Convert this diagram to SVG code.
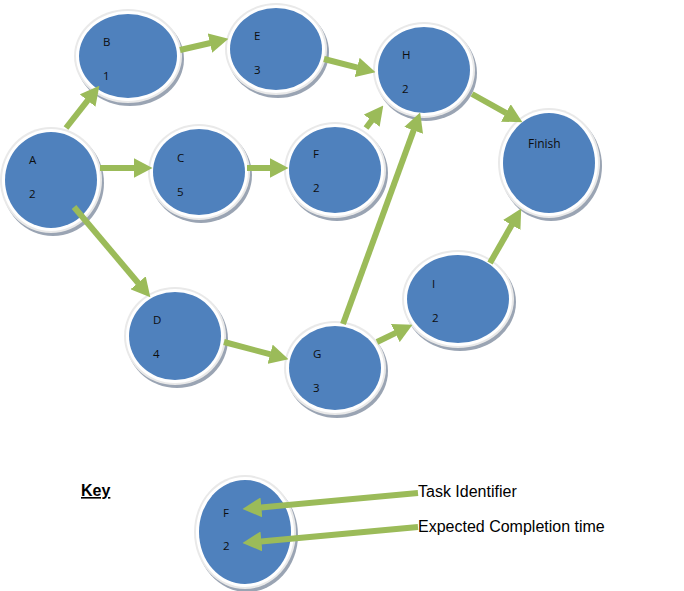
<svg xmlns="http://www.w3.org/2000/svg" width="684" height="591" viewBox="0 0 684 591">
<defs>
<marker id="ah" markerUnits="userSpaceOnUse" markerWidth="19" markerHeight="20" viewBox="0 0 19 20" refX="0.5" refY="10" orient="auto">
<path d="M0,0 L19,10 L0,20 z" fill="#9BBB59"/>
</marker>
</defs>
<style>
.sh{fill:#9aa4b3}
.rg{fill:#e9e9e9}
.wh{fill:#ffffff}
.bl{fill:#4F81BD}
.t{font-family:"Open Sans","Liberation Sans",sans-serif;font-size:11.5px;fill:#0d0d0d}
.k{font-family:"Liberation Sans",Arial,sans-serif;font-size:16px;fill:#000}
.c{stroke:#9BBB59;stroke-width:6;fill:none;marker-end:url(#ah)}
</style>
<rect width="684" height="591" fill="#fff"/>
<g id="node-B">
<ellipse class="sh" cx="130" cy="59" rx="54" ry="47"/><ellipse class="rg" cx="128" cy="56" rx="54" ry="47"/><ellipse class="wh" cx="128" cy="56" rx="52" ry="45"/><ellipse class="bl" cx="128" cy="56" rx="49" ry="42"/>
<text class="t" x="103" y="46">B</text><text class="t" x="103" y="80">1</text>
</g>
<g id="node-E">
<ellipse class="sh" cx="278" cy="52" rx="51" ry="46"/><ellipse class="rg" cx="276" cy="49" rx="51" ry="46"/><ellipse class="wh" cx="276" cy="49" rx="49" ry="44"/><ellipse class="bl" cx="276" cy="49" rx="46" ry="41"/>
<text class="t" x="254" y="40">E</text><text class="t" x="254" y="74">3</text>
</g>
<g id="node-A">
<ellipse class="sh" cx="53" cy="183" rx="51" ry="53"/><ellipse class="rg" cx="51" cy="180" rx="51" ry="53"/><ellipse class="wh" cx="51" cy="180" rx="49" ry="51"/><ellipse class="bl" cx="51" cy="180" rx="46" ry="48"/>
<text class="t" x="29" y="164">A</text><text class="t" x="29" y="198">2</text>
</g>
<g id="node-C">
<ellipse class="sh" cx="201" cy="175" rx="51" ry="48"/><ellipse class="rg" cx="199" cy="172" rx="51" ry="48"/><ellipse class="wh" cx="199" cy="172" rx="49" ry="46"/><ellipse class="bl" cx="199" cy="172" rx="46" ry="43"/>
<text class="t" x="177" y="162">C</text><text class="t" x="177" y="196">5</text>
</g>
<g id="node-F">
<ellipse class="sh" cx="337" cy="173" rx="51" ry="48"/><ellipse class="rg" cx="335" cy="170" rx="51" ry="48"/><ellipse class="wh" cx="335" cy="170" rx="49" ry="46"/><ellipse class="bl" cx="335" cy="170" rx="46" ry="43"/>
<text class="t" x="313" y="158">F</text><text class="t" x="313" y="192">2</text>
</g>
<g id="node-H">
<ellipse class="sh" cx="426" cy="73" rx="51" ry="48"/><ellipse class="rg" cx="424" cy="70" rx="51" ry="48"/><ellipse class="wh" cx="424" cy="70" rx="49" ry="46"/><ellipse class="bl" cx="424" cy="70" rx="46" ry="43"/>
<text class="t" x="402" y="59">H</text><text class="t" x="402" y="93">2</text>
</g>
<g id="node-Finish">
<ellipse class="sh" cx="551" cy="166" rx="51" ry="55"/><ellipse class="rg" cx="549" cy="163" rx="51" ry="55"/><ellipse class="wh" cx="549" cy="163" rx="49" ry="53"/><ellipse class="bl" cx="549" cy="163" rx="46" ry="50"/>
<text class="t" x="528" y="148" style="font-size:12px">Finish</text>
</g>
<g id="node-D">
<ellipse class="sh" cx="177" cy="339" rx="51" ry="49"/><ellipse class="rg" cx="175" cy="336" rx="51" ry="49"/><ellipse class="wh" cx="175" cy="336" rx="49" ry="47"/><ellipse class="bl" cx="175" cy="336" rx="46" ry="44"/>
<text class="t" x="153" y="324">D</text><text class="t" x="153" y="358">4</text>
</g>
<g id="node-G">
<ellipse class="sh" cx="337" cy="371" rx="51" ry="47"/><ellipse class="rg" cx="335" cy="368" rx="51" ry="47"/><ellipse class="wh" cx="335" cy="368" rx="49" ry="45"/><ellipse class="bl" cx="335" cy="368" rx="46" ry="42"/>
<text class="t" x="313" y="358">G</text><text class="t" x="313" y="392">3</text>
</g>
<g id="node-I">
<ellipse class="sh" cx="460" cy="302" rx="56" ry="49"/><ellipse class="rg" cx="458" cy="299" rx="56" ry="49"/><ellipse class="wh" cx="458" cy="299" rx="54" ry="47"/><ellipse class="bl" cx="458" cy="299" rx="51" ry="44"/>
<text class="t" x="432" y="288">I</text><text class="t" x="432" y="322">2</text>
</g>
<g id="connectors">
<line class="c" x1="66" y1="128" x2="87.9" y2="100.2"/>
<line class="c" x1="180" y1="50" x2="210.4" y2="43"/>
<line class="c" x1="324" y1="59" x2="357.6" y2="67.6"/>
<line class="c" x1="100" y1="168" x2="134" y2="168"/>
<line class="c" x1="247" y1="168" x2="270" y2="168"/>
<line class="c" x1="74" y1="207" x2="138.4" y2="283.2"/>
<line class="c" x1="366" y1="128" x2="372" y2="120.2"/>
<line class="c" x1="343" y1="324" x2="413.8" y2="129.9"/>
<line class="c" x1="472" y1="94" x2="506.3" y2="113.2"/>
<line class="c" x1="224" y1="342" x2="270.6" y2="354.4"/>
<line class="c" x1="377" y1="342" x2="395.8" y2="332.9"/>
<line class="c" x1="490" y1="263" x2="512" y2="224.6"/>
</g>
<g id="key">
<text class="k" x="81" y="496" font-weight="bold" text-decoration="underline">Key</text>
<g id="key-node">
<ellipse class="sh" cx="247" cy="535" rx="51" ry="57"/><ellipse class="rg" cx="245" cy="532" rx="51" ry="57"/><ellipse class="wh" cx="245" cy="532" rx="49" ry="55"/><ellipse class="bl" cx="245" cy="532" rx="46" ry="52"/>
<text class="t" x="223" y="517">F</text><text class="t" x="223" y="550">2</text>
</g>
<g id="key-connectors">
<line class="c" x1="418" y1="493" x2="260.9" y2="507.4"/>
<line class="c" x1="418" y1="527" x2="260.9" y2="541.4"/>
</g>
<text class="k" x="418" y="497">Task Identifier</text>
<text class="k" x="418" y="532">Expected Completion time</text>
</g>
</svg>
